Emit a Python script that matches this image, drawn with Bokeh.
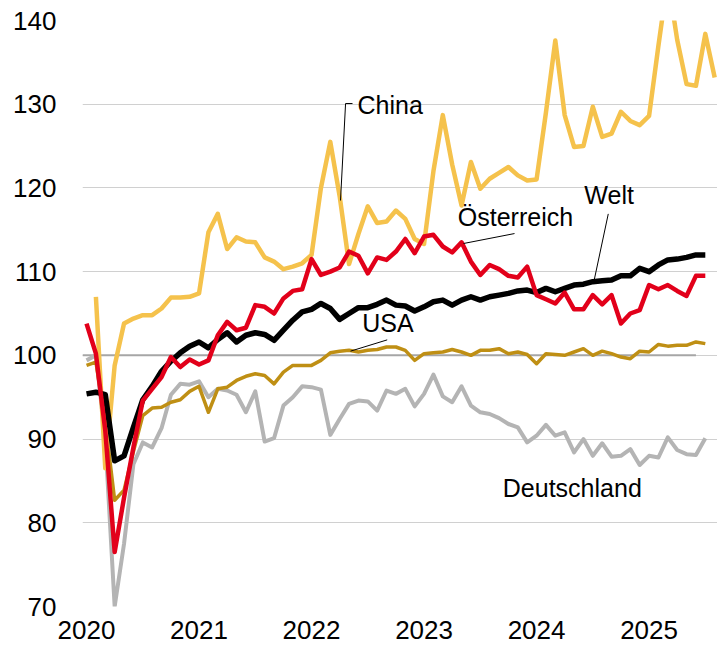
from bokeh.plotting import figure
from bokeh.models import Range1d, FixedTicker, Label
from bokeh.embed import file_html
from bokeh.resources import INLINE
from bokeh.core.properties import value

# ---------------- data (monthly index, Jan 2020 = 0) ----------------
YEAR_LABELS = ["2020", "2021", "2022", "2023", "2024", "2025"]
Y_TICKS = [70, 80, 90, 100, 110, 120, 130, 140]
BASELINE = 100
BASELINE_LAST_MONTH = 65  # baseline drawn Jan 2020 .. Jun 2025

welt = [95.4, 95.6, 95.3, 87.4, 88.0, 91.4, 94.7, 96.3, 98.1, 99.3, 100.3, 101.1,
        101.6, 100.9, 101.9, 102.7, 101.6, 102.4, 102.7, 102.5, 101.8, 103.0, 104.2, 105.2,
        105.5, 106.2, 105.6, 104.3, 105.0, 105.7, 105.7, 106.1, 106.6, 106.0, 105.9, 105.3,
        105.8, 106.4, 106.6, 106.0, 106.6, 107.0, 106.6, 107.0, 107.2, 107.4, 107.7, 107.8,
        107.5, 108.0, 107.6, 108.0, 108.4, 108.5, 108.8, 108.9, 109.0, 109.5, 109.5, 110.4,
        110.0, 110.8, 111.4, 111.5, 111.7, 112.0, 112.0]

oesterreich = [103.8, 100.2, 91.0, 76.5, 83.0, 89.0, 94.6, 96.0, 97.4, 99.8, 98.6, 99.5,
               98.9, 99.4, 102.4, 104.0, 103.0, 103.3, 106.0, 105.8, 105.0, 106.8, 107.7, 107.9,
               111.5, 109.6, 110.0, 110.5, 112.4, 111.9, 109.8, 111.7, 111.4, 112.4, 113.9, 112.2,
               114.2, 114.4, 113.0, 112.3, 113.5, 111.2, 109.6, 110.8, 110.3, 109.5, 109.3, 110.6,
               107.2, 106.7, 106.2, 107.5, 105.5, 105.5, 107.2, 106.1, 107.2, 103.8, 105.0, 105.4,
               108.4, 107.9, 108.4, 107.7, 107.1, 109.5, 109.5]

usa = [98.8, 99.2, 92.0, 82.7, 83.9, 88.5, 92.8, 93.7, 93.8, 94.4, 94.7, 95.7,
       96.3, 93.2, 96.0, 96.2, 97.0, 97.5, 97.8, 97.6, 96.6, 98.0, 98.8, 98.8,
       98.8, 99.4, 100.3, 100.5, 100.6, 100.4, 100.6, 100.7, 101.0, 101.0, 100.6, 99.4,
       100.2, 100.3, 100.4, 100.7, 100.4, 100.0, 100.6, 100.6, 100.8, 100.2, 100.4, 100.1,
       99.0, 100.2, 100.1, 100.0, 100.4, 100.8, 100.0, 100.5, 100.2, 99.8, 99.6, 100.5,
       100.4, 101.3, 101.1, 101.2, 101.2, 101.6, 101.4]

deutschland = [99.4, 100.0, 90.0, 70.0, 77.5, 87.0, 89.6, 89.0, 91.3, 95.3, 96.6, 96.5,
               96.9, 95.0, 96.0, 95.8, 95.3, 93.2, 95.7, 89.7, 90.1, 94.0, 95.0, 96.3,
               96.2, 95.9, 90.5, 92.4, 94.2, 94.6, 94.5, 93.4, 95.8, 95.4, 96.0, 93.9,
               95.4, 97.7, 95.1, 94.4, 96.3, 94.0, 93.2, 93.0, 92.5, 91.8, 91.4, 89.6,
               90.4, 91.7, 90.4, 90.8, 88.4, 90.0, 88.0, 89.5, 87.9, 88.0, 88.8, 86.9,
               88.0, 87.8, 90.2, 88.7, 88.2, 88.1, 90.1]

# China series starts Feb 2020 (index 1) and runs one month longer
china = [107.0, 86.5, 98.8, 103.8, 104.4, 104.8, 104.8, 105.6, 106.9, 106.9, 107.0,
         107.4, 114.7, 116.9, 112.7, 114.1, 113.6, 113.5, 111.7, 111.2, 110.3, 110.6, 111.0,
         112.0, 120.0, 125.5, 119.0, 110.9, 114.5, 117.8, 115.8, 116.0, 117.3, 116.3, 113.9,
         113.3, 122.0, 128.7, 122.8, 117.9, 123.1, 119.9, 121.1, 121.8, 122.5, 121.5, 120.9,
         121.0, 129.0, 137.6, 128.7, 124.9, 125.0, 129.7, 126.1, 126.5, 129.1, 128.0, 127.5,
         128.6, 137.0, 145.0, 137.7, 132.4, 132.2, 138.4, 133.2]
CHINA_START = 1

months = list(range(len(welt)))
china_months = list(range(CHINA_START, CHINA_START + len(china)))
year_ticks = [12 * k for k in range(len(YEAR_LABELS))]

# ---------------- figure ----------------
X_START, X_END = -0.43, 67.3
FONT = "Liberation Sans"

p = figure(width=717, height=652, output_backend="svg", toolbar_location=None,
           x_range=Range1d(X_START, X_END), y_range=Range1d(70, 140),
           min_border_left=82, min_border_right=0, min_border_top=20, min_border_bottom=46)
p.outline_line_color = None
p.background_fill_color = "white"
p.border_fill_color = "white"

p.xgrid.visible = False
p.ygrid.ticker = FixedTicker(ticks=Y_TICKS)
p.ygrid.grid_line_color = "#d0d0d0"
p.ygrid.grid_line_width = 1

p.yaxis.ticker = FixedTicker(ticks=Y_TICKS)
p.xaxis.ticker = FixedTicker(ticks=year_ticks)
p.xaxis.major_label_overrides = {t: l for t, l in zip(year_ticks, YEAR_LABELS)}
for ax in (p.xaxis, p.yaxis):
    ax.axis_line_color = None
    ax.major_tick_line_color = None
    ax.minor_tick_line_color = None
    ax.major_tick_out = 0
    ax.major_tick_in = 0
    ax.major_label_text_font = FONT
    ax.major_label_text_font_size = "26px"
    ax.major_label_text_color = "black"
p.yaxis.major_label_standoff = 26
p.xaxis.major_label_standoff = 14

# baseline 100
base_x = [X_START] + months[:BASELINE_LAST_MONTH + 1]
p.line(base_x, [BASELINE] * len(base_x), line_color="#a6a6a6", line_width=2)

p.line(months, deutschland, line_color="#b4b4b4", line_width=4, line_join="round")
p.line(months, usa, line_color="#bf8f14", line_width=3.5, line_join="round")
p.line(china_months, china, line_color="#f5c24c", line_width=4.5, line_join="round")
p.line(months, welt, line_color="black", line_width=5.5, line_join="round")
p.line(months, oesterreich, line_color="#e2001a", line_width=4.5, line_join="round")

# leader lines
p.line([28.37, 27.63, 27.09], [130.08, 130.08, 118.5], line_color="black", line_width=1)
p.line([45.65, 40.21], [114.55, 113.36], line_color="black", line_width=1)
p.line([55.65, 54.15], [116.9, 109.0], line_color="black", line_width=1)
p.line([32.07, 28.16], [101.85, 100.5], line_color="black", line_width=1)

labels = [("China", 28.9, 129.95), ("Österreich", 39.6, 116.5), ("Welt", 53.1, 119.2),
          ("USA", 29.4, 103.9), ("Deutschland", 44.4, 84.2)]
for txt, lx, ly in labels:
    p.add_layout(Label(x=lx, y=ly, text=txt, text_font=FONT, text_font_size="25px",
                       text_baseline="alphabetic", text_align="left", text_color="black"))

open("out.html", "w").write(file_html(p, INLINE))
